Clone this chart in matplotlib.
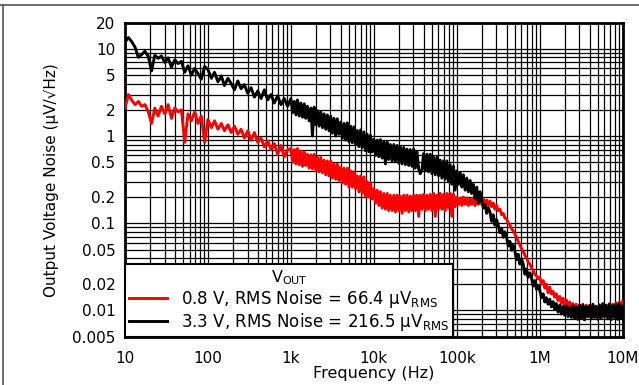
import matplotlib
matplotlib.use("Agg")
import matplotlib.pyplot as plt
from matplotlib.lines import Line2D
from matplotlib.ticker import FixedLocator, LogLocator, NullFormatter

plt.rcParams['font.family'] = ['DejaVu Sans']
plt.rcParams['mathtext.fontset'] = 'custom'
plt.rcParams['mathtext.rm'] = 'DejaVu Sans'
plt.rcParams['mathtext.it'] = 'DejaVu Sans:italic'

# Frequency grid (Hz)
freq = [
    10, 11, 12, 13.2, 14.5, 15.8, 17.4, 19.1, 20.9, 22.9, 25.1, 27.5, 30.2, 33.1, 36.3, 39.8, 43.7, 47.9, 52.5, 57.5, 63.1, 69.2, 75.9, 83.2, 91.2,
    100, 110, 120, 132, 145, 158, 174, 191, 209, 229, 251, 275, 302, 331, 363, 398, 437, 479, 525, 575, 631, 692, 759, 832, 912,
    1000, 1050, 1100, 1150, 1200, 1260, 1320, 1380, 1450, 1510, 1580, 1660, 1740, 1820, 1910, 2000, 2090, 2190, 2290, 2400,
    2510, 2630, 2750, 2880, 3020, 3160, 3310, 3470, 3630, 3800, 3980, 4170, 4370, 4570, 4790, 5010, 5250, 5500, 5750, 6030,
    6310, 6610, 6920, 7240, 7590, 7940, 8320, 8710, 9120, 9550,
    10000, 10500, 11000, 11500, 12000, 12600, 13200, 13800, 14500, 15100, 15800, 16600, 17400, 18200, 19100, 20000, 20900, 21900, 22900, 24000,
    25100, 26300, 27500, 28800, 30200, 31600, 33100, 34700, 36300, 38000, 39800, 41700, 43700, 45700, 47900, 50100, 52500, 55000, 57500, 60300,
    63100, 66100, 69200, 72400, 75900, 79400, 83200, 87100, 91200, 95500,
    100000, 105000, 110000, 115000, 120000, 126000, 132000, 138000, 145000, 151000, 158000, 166000, 174000, 182000, 191000, 200000, 209000, 219000, 229000, 240000,
    251000, 263000, 275000, 288000, 302000, 316000, 331000, 347000, 363000, 380000, 398000, 417000, 437000, 457000, 479000, 501000, 525000, 550000, 575000, 603000,
    631000, 661000, 692000, 724000, 759000, 794000, 832000, 871000, 912000, 955000,
    1000000, 1050000, 1100000, 1150000, 1200000, 1260000, 1320000, 1380000, 1450000, 1510000, 1580000, 1660000, 1740000, 1820000, 1910000, 2000000, 2090000, 2190000, 2290000, 2400000,
    2510000, 2630000, 2750000, 2880000, 3020000, 3160000, 3310000, 3470000, 3630000, 3800000, 3980000, 4170000, 4370000, 4570000, 4790000, 5010000, 5250000, 5500000, 5750000, 6030000,
    6310000, 6610000, 6920000, 7240000, 7590000, 7940000, 8320000, 8710000, 9120000, 9550000, 10000000,
]

# VOUT = 0.8 V noise (uV/rtHz)
noise_08v = [
    2.1, 3.0, 2.6, 2.3, 2.5, 2.2, 2.3, 1.9, 1.4, 2.1, 1.7, 2.2, 1.8, 2.3, 1.6, 2.1, 1.9, 2.0, 0.85, 1.8, 1.5, 1.9, 1.4, 1.7, 0.85,
    1.55, 1.25, 1.5, 1.2, 1.4, 1.15, 1.35, 1.1, 1.3, 1.05, 1.2, 0.95, 1.15, 0.9, 1.1, 0.85, 0.95, 0.75, 0.88, 0.7, 0.82, 0.62, 0.78, 0.58, 0.7,
    0.72, 0.5, 0.7, 0.48, 0.72, 0.47, 0.67, 0.45, 0.66, 0.46, 0.62, 0.43, 0.61, 0.42, 0.62, 0.4, 0.57, 0.39, 0.57, 0.38,
    0.53, 0.36, 0.52, 0.35, 0.52, 0.33, 0.48, 0.32, 0.48, 0.31, 0.44, 0.29, 0.43, 0.28, 0.43, 0.26, 0.4, 0.26, 0.39, 0.25,
    0.35, 0.23, 0.35, 0.22, 0.34, 0.2, 0.3, 0.2, 0.29, 0.19,
    0.25, 0.17, 0.24, 0.16, 0.23, 0.15, 0.22, 0.145, 0.22, 0.14, 0.21, 0.14, 0.21, 0.135, 0.21, 0.14, 0.205, 0.13, 0.21, 0.14,
    0.21, 0.135, 0.205, 0.14, 0.21, 0.14, 0.21, 0.12, 0.21, 0.145, 0.215, 0.14, 0.21, 0.145, 0.215, 0.14, 0.22, 0.12, 0.21, 0.145,
    0.22, 0.145, 0.215, 0.14, 0.22, 0.15, 0.22, 0.12, 0.215, 0.155,
    0.2, 0.165, 0.195, 0.16, 0.2, 0.165, 0.195, 0.16, 0.19, 0.165, 0.195, 0.16, 0.19, 0.165, 0.195, 0.165, 0.19, 0.16, 0.185, 0.16,
    0.18, 0.155, 0.17, 0.145, 0.16, 0.14, 0.145, 0.125, 0.13, 0.115, 0.112, 0.1, 0.097, 0.086, 0.082, 0.075, 0.068, 0.062, 0.057, 0.051,
    0.048, 0.043, 0.04, 0.036, 0.034, 0.031, 0.029, 0.026, 0.025, 0.023,
    0.024, 0.02, 0.022, 0.018, 0.02, 0.016, 0.0185, 0.0155, 0.0165, 0.0142, 0.0155, 0.013, 0.0145, 0.012, 0.0138, 0.0113, 0.0132, 0.0105, 0.0125, 0.01,
    0.012, 0.009, 0.0118, 0.0085, 0.0115, 0.0082, 0.0112, 0.0078, 0.0115, 0.0085, 0.0113, 0.0082, 0.0116, 0.0087, 0.011, 0.0083, 0.0114, 0.0086, 0.0118, 0.009,
    0.0115, 0.0088, 0.012, 0.0091, 0.0118, 0.0096, 0.0122, 0.0102, 0.0125, 0.0108, 0.0128,
]

# VOUT = 3.3 V noise (uV/rtHz)
noise_33v = [
    12.0, 13.5, 12.2, 10.5, 8.0, 8.6, 9.4, 8.2, 5.6, 8.5, 7.8, 8.3, 7.0, 7.9, 6.2, 7.5, 6.8, 7.2, 5.4, 6.4, 5.0, 6.0, 5.2, 4.5, 6.3,
    5.8, 4.6, 5.4, 4.2, 4.9, 3.8, 4.6, 4.0, 3.4, 4.3, 3.5, 3.9, 3.1, 3.6, 2.8, 3.3, 2.7, 3.4, 2.6, 3.0, 2.4, 2.9, 2.3, 2.7, 2.2,
    2.7, 1.85, 2.5, 1.75, 2.6, 1.7, 2.4, 1.65, 2.35, 1.6, 2.2, 1.5, 2.1, 1.0, 2.15, 1.35, 1.95, 1.3, 1.9, 1.25,
    1.8, 1.2, 1.75, 1.15, 1.7, 1.08, 1.6, 1.0, 1.58, 1.05, 1.45, 0.94, 1.4, 0.9, 1.42, 0.86, 1.3, 0.84, 1.28, 0.8,
    1.16, 0.76, 1.18, 0.74, 1.12, 0.68, 1.05, 0.66, 1.02, 0.66,
    0.92, 0.6, 0.9, 0.58, 0.91, 0.56, 0.86, 0.48, 0.85, 0.54, 0.8, 0.52, 0.8, 0.51, 0.78, 0.49, 0.75, 0.48, 0.74, 0.47,
    0.71, 0.46, 0.7, 0.45, 0.71, 0.43, 0.67, 0.42, 0.37, 0.41, 0.63, 0.4, 0.62, 0.39, 0.62, 0.37, 0.57, 0.36, 0.57, 0.35,
    0.53, 0.33, 0.52, 0.32, 0.52, 0.3, 0.47, 0.28, 0.45, 0.24,
    0.4, 0.28, 0.38, 0.26, 0.36, 0.24, 0.33, 0.23, 0.31, 0.22, 0.28, 0.19, 0.26, 0.17, 0.23, 0.18, 0.15, 0.165, 0.13, 0.15,
    0.135, 0.105, 0.125, 0.095, 0.11, 0.095, 0.078, 0.088, 0.069, 0.08, 0.069, 0.055, 0.062, 0.049, 0.056, 0.048, 0.038, 0.044, 0.034, 0.039,
    0.034, 0.026, 0.03, 0.024, 0.027, 0.024, 0.019, 0.022, 0.0175, 0.0195,
    0.017, 0.014, 0.0155, 0.0125, 0.014, 0.0118, 0.0135, 0.011, 0.0126, 0.0103, 0.012, 0.0096, 0.0115, 0.0091, 0.0112, 0.0088, 0.0113, 0.0085, 0.0108, 0.0083,
    0.0113, 0.0081, 0.011, 0.0079, 0.0115, 0.0082, 0.0117, 0.0078, 0.0111, 0.0085, 0.0114, 0.008, 0.0118, 0.0083, 0.0112, 0.0079, 0.0116, 0.0081, 0.012, 0.0084,
    0.0115, 0.008, 0.0117, 0.0078, 0.0114, 0.0083, 0.0118, 0.0079, 0.0119, 0.0082, 0.0112,
]

series_labels = [
    r"0.8 V, RMS Noise = 66.4 µV$_{\mathrm{RMS}}$",
    r"3.3 V, RMS Noise = 216.5 µV$_{\mathrm{RMS}}$",
]
legend_title = r"V$_{\mathrm{OUT}}$"

x_ticks = [10, 100, 1e3, 1e4, 1e5, 1e6, 1e7]
x_labels = ["10", "100", "1k", "10k", "100k", "1M", "10M"]
y_ticks = [0.005, 0.01, 0.02, 0.05, 0.1, 0.2, 0.5, 1, 2, 5, 10, 20]
y_labels = ["0.005", "0.01", "0.02", "0.05", "0.1", "0.2", "0.5", "1", "2", "5", "10", "20"]

fig = plt.figure(figsize=(6.39, 3.85), dpi=100)
ax = fig.add_axes([0.1956, 0.1255, 0.7789, 0.8155])

ax.plot(freq, noise_08v, color='#ff0000', lw=2.1, label=series_labels[0], zorder=3)
ax.plot(freq, noise_33v, color='#000000', lw=2.1, label=series_labels[1], zorder=4)

ax.set_xscale('log')
ax.set_yscale('log')
ax.set_xlim(10, 1e7)
ax.set_ylim(0.005, 20)

ax.xaxis.set_major_locator(FixedLocator(x_ticks))
ax.set_xticklabels(x_labels)
ax.xaxis.set_minor_locator(LogLocator(base=10, subs=range(2, 10), numticks=50))
ax.xaxis.set_minor_formatter(NullFormatter())
ax.yaxis.set_major_locator(FixedLocator(y_ticks))
ax.set_yticklabels(y_labels)
ax.yaxis.set_minor_locator(LogLocator(base=10, subs=range(1, 10), numticks=50))
ax.yaxis.set_minor_formatter(NullFormatter())

ax.grid(True, which='both', color='black', lw=0.9)
ax.tick_params(which='both', length=0, labelsize=11)
ax.tick_params(axis='x', pad=10)
ax.tick_params(axis='y', pad=7)
for s in ax.spines.values():
    s.set_linewidth(2.0)
    s.set_color('black')

ax.set_xlabel("Frequency (Hz)", fontsize=11.5, labelpad=0)
ax.set_ylabel("Output Voltage Noise (µV/√Hz)", fontsize=11, labelpad=9)

leg = ax.legend(loc='lower left', bbox_to_anchor=(0, 0), borderaxespad=0,
                title=legend_title, fontsize=12, title_fontsize=11.5,
                fancybox=False, framealpha=1, edgecolor='black',
                handlelength=2.3, handletextpad=0.8, borderpad=0.25,
                labelspacing=0.05)
leg.get_frame().set_linewidth(1.5)
leg.set_zorder(10)

# outer document frame (top and left)
fig.add_artist(Line2D([0, 1], [1 - 4.7 / 385, 1 - 4.7 / 385], transform=fig.transFigure,
                      color='#555555', lw=1.2))
fig.add_artist(Line2D([2.7 / 639, 2.7 / 639], [0, 1 - 4.7 / 385], transform=fig.transFigure,
                      color='#555555', lw=1.2))

fig.savefig("out.png", dpi=100)
